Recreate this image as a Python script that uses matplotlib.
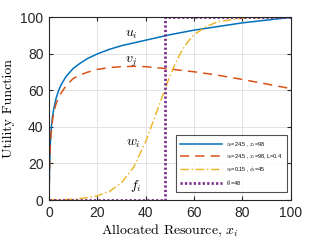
import matplotlib
matplotlib.use("Agg")
import matplotlib.pyplot as plt
import numpy as np

# values
x_u = [0, 0.3, 0.6, 1, 1.5, 2, 3, 4, 5, 7, 10, 13, 16, 20, 25, 30, 40, 50, 60, 70, 80, 90, 100]
u_vals = [0, 20, 32, 40, 46, 50, 56, 60, 63, 67.5, 72, 75, 77.5, 80, 82.5, 84.5, 87.5, 90.5, 93, 95, 97, 98.5, 100]

x_v = [0, 0.3, 0.6, 1, 1.5, 2, 3, 4, 5, 7, 10, 13, 16, 20, 25, 30, 35, 40, 48, 60, 70, 80, 90, 100]
v_vals = [0, 20, 31, 38, 44, 48, 53, 56, 58.5, 62.5, 66.5, 68.5, 70, 71.5, 72.5, 73, 73.2, 73, 72, 70.2, 68.3, 66, 63.5, 61]

x_w = [0, 5, 10, 15, 20, 25, 30, 35, 40, 42.5, 45, 47.5, 50, 52.5, 55, 57.5, 60, 65, 70, 80, 90, 100]
w_vals = [0.1, 0.2, 0.5, 1.1, 2.3, 4.7, 9.5, 18, 32, 41, 50, 59, 68, 75.5, 82, 86.8, 90.5, 95, 97.7, 99.5, 99.9, 100]

x_f = [0, 48, 48, 100]
f_vals = [0, 0, 100, 100]

legend_labels = [r"$u_i$=24.5 , $x_i$=98",
                 r"$u_i$=24.5 , $x_i$=98, L=0.4",
                 r"$u_i$=0.15 , $\phi_i$=45",
                 r"$\theta_i$=48"]
ticks = [0, 20, 40, 60, 80, 100]

plt.rcParams['mathtext.fontset'] = 'cm'
plt.rcParams['font.family'] = 'Liberation Sans'

fig = plt.figure(figsize=(3.2, 2.41), dpi=100)
ax = fig.add_axes([0.153, 0.170, 0.756, 0.758])

ax.plot(x_u, u_vals, color='#0072BD', lw=1.1, label=legend_labels[0])
ax.plot(x_v, v_vals, color='#D95319', lw=1.1, ls=(0, (6, 4)), label=legend_labels[1])
ax.plot(x_w, w_vals, color='#EDB120', lw=1.0, ls=(0, (6, 2, 1, 2)), label=legend_labels[2])
ax.plot(x_f, f_vals, color='#7E2F8E', lw=2.0, ls=(0, (0.8, 0.8)), label=legend_labels[3])

ax.text(34, 91, r"$u_i$", fontsize=10, ha='center', va='center')
ax.text(34, 75.5, r"$v_j$", fontsize=10, ha='center', va='center')
ax.text(35, 31, r"$w_i$", fontsize=10, ha='center', va='center')
ax.text(36, 7.5, r"$f_i$", fontsize=10, ha='center', va='center')

ax.set_xlim(0, 100)
ax.set_ylim(0, 100)
ax.set_xticks(ticks)
ax.set_yticks(ticks)
ax.tick_params(labelsize=10, direction='in', length=3, top=True, right=True,
               colors='#262626', pad=4)
ax.grid(True, color='#e3e3e3', lw=0.7)
ax.set_axisbelow(True)
for s in ax.spines.values():
    s.set_color('#262626')
    s.set_linewidth(0.8)

ax.set_xlabel(r"Allocated Resource, $x_i$", fontname='cmr10', fontsize=10, labelpad=2)
ax.set_ylabel("Utility Function", fontname='cmr10', fontsize=10, labelpad=4)

leg = ax.legend(loc='lower right', fontsize=4, handlelength=7.5, handletextpad=0.7,
                frameon=True, fancybox=False, edgecolor='#262626', borderpad=0.8,
                labelspacing=0.6, borderaxespad=0, bbox_to_anchor=(0.983, 0.044))
leg.get_frame().set_linewidth(0.8)

fig.savefig("out.png", dpi=100)
